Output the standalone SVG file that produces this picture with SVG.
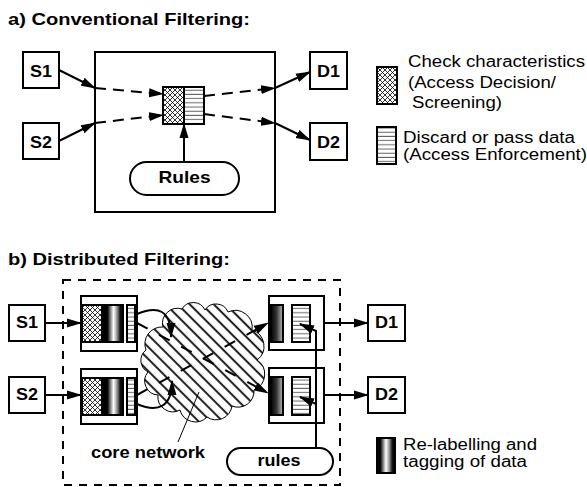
<svg xmlns="http://www.w3.org/2000/svg" width="587" height="487" viewBox="0 0 587 487">
  <style>
    text { font-family: "Liberation Sans", Arial, Helvetica, sans-serif; fill: #000; }
    .title { font-size: 17px; font-weight: bold; }
    .lbl { font-size: 17px; font-weight: bold; text-anchor: middle; }
    .leg { font-size: 16px; }
    .box { fill: #fff; stroke: #000; stroke-width: 2; }
    .line { fill: none; stroke: #000; stroke-width: 2; }
    .dash { fill: none; stroke: #000; stroke-width: 2; stroke-dasharray: 11 7; }
    .dash2 { fill: none; stroke: #000; stroke-width: 2; stroke-dasharray: 12 13; }
    .arr { marker-end: url(#ah); }
    .xh { fill: url(#crosshatch); stroke: #000; stroke-width: 2; }
    .hs { fill: url(#hstripes); stroke: #000; stroke-width: 2; }
    .rl { fill: url(#relabel); stroke: #000; stroke-width: 2; }
    .rlr { fill: url(#relabelR); stroke: #000; stroke-width: 2; }
  </style>
  <defs>
    <marker id="ah" markerWidth="15" markerHeight="10" refX="14" refY="5" orient="auto" markerUnits="userSpaceOnUse">
      <path d="M0,0.5 L15,5 L0,9.5 z" fill="#000"/>
    </marker>
    <pattern id="crosshatch" width="5" height="5" patternUnits="userSpaceOnUse">
      <rect width="5" height="5" fill="#fff"/>
      <path d="M0,0 L5,5 M5,0 L0,5" stroke="#000" stroke-width="0.8"/>
    </pattern>
    <pattern id="hstripes" width="4" height="4.2" patternUnits="userSpaceOnUse">
      <rect width="4" height="4.2" fill="#fff"/>
      <line x1="0" y1="2" x2="4" y2="2" stroke="#666" stroke-width="1"/>
    </pattern>
    <pattern id="hatch" width="8.5" height="8.5" patternUnits="userSpaceOnUse" patternTransform="rotate(-45)">
      <rect width="8.5" height="8.5" fill="#fff"/>
      <line x1="4" y1="0" x2="4" y2="8.5" stroke="#000" stroke-width="1.8"/>
    </pattern>
    <linearGradient id="relabel" x1="0" y1="0" x2="1" y2="0">
      <stop offset="0" stop-color="#000"/>
      <stop offset="0.18" stop-color="#000"/>
      <stop offset="0.35" stop-color="#888"/>
      <stop offset="0.5" stop-color="#fff"/>
      <stop offset="0.68" stop-color="#999"/>
      <stop offset="0.85" stop-color="#111"/>
      <stop offset="1" stop-color="#000"/>
    </linearGradient>
    <linearGradient id="relabelR" x1="0" y1="0" x2="1" y2="0">
      <stop offset="0" stop-color="#000"/>
      <stop offset="0.45" stop-color="#333"/>
      <stop offset="1" stop-color="#bbb"/>
    </linearGradient>
  </defs>

  <!-- a) conventional filtering -->
  <text class="title" x="8" y="25" textLength="242" lengthAdjust="spacingAndGlyphs">a) Conventional Filtering:</text>

  <g id="a-firewall">
    <rect class="box" x="95" y="52" width="180" height="160"/>
  </g>
  <g id="a-S1">
    <rect class="box" x="23" y="52" width="36" height="36"/>
    <text class="lbl" x="41" y="77" textLength="22" lengthAdjust="spacingAndGlyphs">S1</text>
  </g>
  <g id="a-S2">
    <rect class="box" x="23" y="123" width="36" height="36"/>
    <text class="lbl" x="41" y="148" textLength="22" lengthAdjust="spacingAndGlyphs">S2</text>
  </g>
  <g id="a-D1">
    <rect class="box" x="310" y="52" width="37" height="37"/>
    <text class="lbl" x="328.5" y="77" textLength="23" lengthAdjust="spacingAndGlyphs">D1</text>
  </g>
  <g id="a-D2">
    <rect class="box" x="310" y="123" width="37" height="37"/>
    <text class="lbl" x="328.5" y="148" textLength="23" lengthAdjust="spacingAndGlyphs">D2</text>
  </g>
  <g id="a-filter">
    <rect class="xh" x="163" y="87" width="21" height="37"/>
    <rect class="hs" x="184" y="87" width="20" height="37"/>
  </g>
  <g id="a-rules">
    <rect class="box" x="130" y="162" width="109" height="33" rx="16.5"/>
    <text class="lbl" x="184.5" y="183" textLength="52" lengthAdjust="spacingAndGlyphs">Rules</text>
  </g>

  <g id="a-connectors">
    <path class="line arr" d="M59,70 L95,88"/>
    <path class="dash arr" d="M95,88 L163,94"/>
    <path class="line arr" d="M59,141 L95,123"/>
    <path class="dash arr" d="M95,123 L163,115"/>
    <path class="dash arr" d="M204,96 L275,88"/>
    <path class="line arr" d="M275,88 L310,72"/>
    <path class="dash arr" d="M204,114 L275,123"/>
    <path class="line arr" d="M275,123 L310,140"/>
    <path class="line arr" d="M184,162 L184,124"/>
  </g>

  <!-- legend a -->
  <g id="legend-a">
    <rect class="xh" x="377" y="67" width="20" height="37"/>
    <text class="leg" x="408" y="67" textLength="177" lengthAdjust="spacingAndGlyphs">Check characteristics</text>
    <text class="leg" x="408" y="88" textLength="148" lengthAdjust="spacingAndGlyphs">(Access Decision/</text>
    <text class="leg" x="412" y="108" textLength="90" lengthAdjust="spacingAndGlyphs">Screening)</text>
    <rect class="hs" x="377" y="127" width="19" height="37"/>
    <text class="leg" x="403" y="143" textLength="172" lengthAdjust="spacingAndGlyphs">Discard or pass data</text>
    <text class="leg" x="403" y="160" textLength="184" lengthAdjust="spacingAndGlyphs">(Access Enforcement)</text>
  </g>

  <!-- b) distributed filtering -->
  <text class="title" x="8" y="265" textLength="222" lengthAdjust="spacingAndGlyphs">b) Distributed Filtering:</text>

  <g id="b-domain">
    <rect x="63" y="280" width="277" height="205" fill="none" stroke="#000" stroke-width="2" stroke-dasharray="8 7"/>
  </g>

  <g id="b-core">
    <path d="M146,350 A17,17 0 0 1 163,327 A15,15 0 0 1 182,309 A13,13 0 0 1 205,310 A13,13 0 0 1 228,312 A17,17 0 0 1 252,330 A17,17 0 0 1 257,360 A17,17 0 0 1 254,390 A16,16 0 0 1 232,406 A16,16 0 0 1 207,417 A16,16 0 0 1 180,410 A15,15 0 0 1 158,395 A14,14 0 0 1 148,372 A13,13 0 0 1 146,350 Z" fill="url(#hatch)" stroke="#000" stroke-width="1"/>
    <line x1="178" y1="442" x2="199" y2="392" stroke="#000" stroke-width="1"/>
    <text class="lbl" x="148" y="458" textLength="114" lengthAdjust="spacingAndGlyphs">core network</text>
  </g>

  <g id="b-connectors">
    <path class="line arr" d="M137,314 C158,305 171,310 171,337"/>
    <path class="line arr" d="M137,404 C158,413 172,407 172,381"/>
    <path class="dash2 arr" d="M137,323 L268,393"/>
    <path class="dash2 arr" d="M137,395 L268,323"/>
    <path class="line arr" d="M45,323 L81,323"/>
    <path class="line arr" d="M45,395 L81,395"/>
    <path class="line arr" d="M324,323 L368,323"/>
    <path class="line arr" d="M324,395 L368,395"/>
  </g>

  <g id="b-S1">
    <rect class="box" x="9" y="305" width="36" height="36"/>
    <text class="lbl" x="27" y="328" textLength="22" lengthAdjust="spacingAndGlyphs">S1</text>
  </g>
  <g id="b-S2">
    <rect class="box" x="9" y="377" width="36" height="36"/>
    <text class="lbl" x="27" y="400" textLength="22" lengthAdjust="spacingAndGlyphs">S2</text>
  </g>
  <g id="b-D1">
    <rect class="box" x="368" y="305" width="37" height="36"/>
    <text class="lbl" x="386.5" y="328" textLength="23" lengthAdjust="spacingAndGlyphs">D1</text>
  </g>
  <g id="b-D2">
    <rect class="box" x="368" y="377" width="37" height="36"/>
    <text class="lbl" x="386.5" y="400" textLength="23" lengthAdjust="spacingAndGlyphs">D2</text>
  </g>

  <g id="b-ingress1">
    <rect class="box" x="81" y="296" width="56" height="55"/>
    <rect class="xh" x="82" y="305" width="20" height="37"/>
    <rect class="rl" x="104" y="305" width="19" height="37"/>
    <rect class="hs" x="127" y="305" width="8" height="37"/>
  </g>
  <g id="b-ingress2">
    <rect class="box" x="81" y="369" width="56" height="55"/>
    <rect class="xh" x="82" y="378" width="20" height="37"/>
    <rect class="rl" x="104" y="378" width="19" height="37"/>
    <rect class="hs" x="127" y="378" width="8" height="37"/>
  </g>
  <g id="b-egress1">
    <rect class="box" x="269" y="296" width="55" height="54"/>
    <rect class="rlr" x="271" y="305" width="12" height="37"/>
    <rect class="hs" x="292" y="305" width="18" height="37"/>
  </g>
  <g id="b-egress2">
    <rect class="box" x="269" y="368" width="55" height="55"/>
    <rect class="rlr" x="271" y="377" width="12" height="38"/>
    <rect class="hs" x="292" y="377" width="18" height="38"/>
  </g>

  <g id="b-rules">
    <rect class="box" x="227" y="448" width="106" height="27" rx="13.5"/>
    <text class="lbl" x="279" y="466" textLength="43" lengthAdjust="spacingAndGlyphs">rules</text>
  </g>
  <g id="b-rules-connectors">
    <path class="line arr" d="M316,448 L316,331 L300,324"/>
    <path class="line arr" d="M316,404 L300,397"/>
  </g>

  <!-- legend b -->
  <g id="legend-b">
    <rect class="rl" x="377" y="438" width="18" height="35"/>
    <text class="leg" x="403" y="450" textLength="134" lengthAdjust="spacingAndGlyphs">Re-labelling and</text>
    <text class="leg" x="403" y="467" textLength="124" lengthAdjust="spacingAndGlyphs">tagging of data</text>
  </g>
</svg>
